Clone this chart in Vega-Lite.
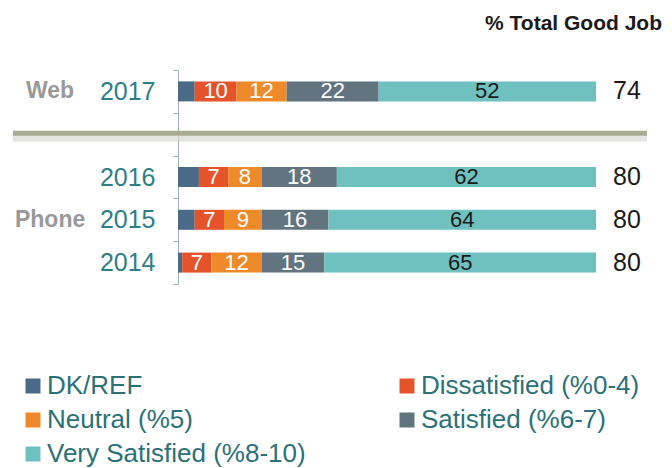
{
  "$schema": "https://vega.github.io/schema/vega-lite/v6.json",
  "width": 418,
  "height": 214,
  "autosize": {"type": "none"},
  "padding": {"left": 178, "top": 70, "right": 76, "bottom": 184},
  "background": "white",
  "config": {"font": "Liberation Sans", "view": {"stroke": null}},
  "title": {"text": "% Total Good Job", "anchor": "end", "frame": "group", "dx": 66, "fontSize": 21, "fontWeight": "bold", "color": "#1a1a1a", "offset": 24, "font": "Liberation Sans"},
  "datasets": {
    "bars": [
      {"year": "2017", "cat": "DK/REF", "value": 4},
      {"year": "2017", "cat": "Dissatisfied (%0-4)", "value": 10},
      {"year": "2017", "cat": "Neutral (%5)", "value": 12},
      {"year": "2017", "cat": "Satisfied (%6-7)", "value": 22},
      {"year": "2017", "cat": "Very Satisfied (%8-10)", "value": 52},
      {"year": "2016", "cat": "DK/REF", "value": 5},
      {"year": "2016", "cat": "Dissatisfied (%0-4)", "value": 7},
      {"year": "2016", "cat": "Neutral (%5)", "value": 8},
      {"year": "2016", "cat": "Satisfied (%6-7)", "value": 18},
      {"year": "2016", "cat": "Very Satisfied (%8-10)", "value": 62},
      {"year": "2015", "cat": "DK/REF", "value": 4},
      {"year": "2015", "cat": "Dissatisfied (%0-4)", "value": 7},
      {"year": "2015", "cat": "Neutral (%5)", "value": 9},
      {"year": "2015", "cat": "Satisfied (%6-7)", "value": 16},
      {"year": "2015", "cat": "Very Satisfied (%8-10)", "value": 64},
      {"year": "2014", "cat": "DK/REF", "value": 1},
      {"year": "2014", "cat": "Dissatisfied (%0-4)", "value": 7},
      {"year": "2014", "cat": "Neutral (%5)", "value": 12},
      {"year": "2014", "cat": "Satisfied (%6-7)", "value": 15},
      {"year": "2014", "cat": "Very Satisfied (%8-10)", "value": 65}
    ],
    "totals": [
      {"year": "2017", "total": 74},
      {"year": "2016", "total": 80},
      {"year": "2015", "total": 80},
      {"year": "2014", "total": 80}
    ],
    "groups": [
      {"group": "Web", "year": "2017"},
      {"group": "Phone", "year": "2015"}
    ],
    "sep": [
      {"year": "gap", "from": -39.5, "to": 112.2}
    ]
  },
  "layer": [
    {
      "data": {"name": "sep"},
      "mark": {"type": "rule", "strokeWidth": 9, "color": "#d4d4d0", "opacity": 0.6, "yOffset": 3},
      "encoding": {
        "y": {"field": "year", "type": "nominal", "scale": {"domain": ["2017", "gap", "2016", "2015", "2014"], "paddingInner": 0, "paddingOuter": 0},
          "axis": {"title": null, "tickBand": "extent", "labelFontSize": 25, "labelColor": "#2e7f84", "labelPadding": 18, "tickSize": 5, "tickColor": "#9fb3b5", "domainColor": "#9fb3b5", "labelExpr": "datum.value == 'gap' ? '' : datum.value", "labelFont": "Liberation Sans"}},
        "x": {"field": "from", "type": "quantitative", "scale": {"domain": [0, 100], "nice": false}, "axis": null},
        "x2": {"field": "to"}
      }
    },
    {
      "data": {"name": "sep"},
      "mark": {"type": "rule", "strokeWidth": 5, "color": "#a9ab92", "yOffset": -1},
      "encoding": {
        "y": {"field": "year", "type": "nominal", "scale": {"domain": ["2017", "gap", "2016", "2015", "2014"], "paddingInner": 0, "paddingOuter": 0}},
        "x": {"field": "from", "type": "quantitative", "scale": {"domain": [0, 100], "nice": false}, "axis": null},
        "x2": {"field": "to"}
      }
    },
    {
      "data": {"name": "bars"},
      "mark": {"type": "bar", "size": 20},
      "encoding": {
        "y": {"field": "year", "type": "nominal", "scale": {"domain": ["2017", "gap", "2016", "2015", "2014"], "paddingInner": 0, "paddingOuter": 0}},
        "x": {"field": "value", "type": "quantitative", "stack": "zero", "scale": {"domain": [0, 100], "nice": false}, "axis": null},
        "color": {"field": "cat", "type": "nominal",
          "scale": {"domain": ["DK/REF", "Dissatisfied (%0-4)", "Neutral (%5)", "Satisfied (%6-7)", "Very Satisfied (%8-10)"], "range": ["#4b6a87", "#e4532a", "#ef8a2b", "#627480", "#6fc1bf"]},
          "legend": {"orient": "none", "direction": "horizontal", "legendX": -158, "legendY": 303, "columns": 2, "columnPadding": 88, "rowPadding": 8, "symbolType": "square", "symbolSize": 225, "symbolStrokeWidth": 0, "labelFontSize": 26, "labelColor": "#2b7177", "labelFont": "Liberation Sans", "labelLimit": 400, "labelOffset": 1, "title": null, "padding": 0}}
      }
    },
    {
      "data": {"name": "bars"},
      "mark": {"type": "text", "fontSize": 22, "baseline": "middle", "align": "center"},
      "encoding": {
        "y": {"field": "year", "type": "nominal", "scale": {"domain": ["2017", "gap", "2016", "2015", "2014"], "paddingInner": 0, "paddingOuter": 0}},
        "x": {"field": "value", "type": "quantitative", "stack": "zero", "bandPosition": 0.5, "scale": {"domain": [0, 100], "nice": false}, "axis": null},
        "detail": {"field": "cat", "type": "nominal"},
        "text": {"condition": {"test": "datum.cat === 'DK/REF'", "value": ""}, "field": "value", "type": "quantitative"},
        "color": {"condition": {"test": "datum.cat === 'Very Satisfied (%8-10)'", "value": "#1a1a1a"}, "value": "#ffffff"}
      }
    },
    {
      "data": {"name": "totals"},
      "mark": {"type": "text", "fontSize": 25, "baseline": "middle", "align": "center", "color": "#1a1a1a"},
      "encoding": {
        "y": {"field": "year", "type": "nominal", "scale": {"domain": ["2017", "gap", "2016", "2015", "2014"], "paddingInner": 0, "paddingOuter": 0}},
        "x": {"datum": 107.4, "type": "quantitative", "scale": {"domain": [0, 100], "nice": false}, "axis": null},
        "text": {"field": "total", "type": "quantitative"}
      }
    },
    {
      "data": {"name": "groups"},
      "mark": {"type": "text", "fontSize": 23, "fontWeight": "bold", "baseline": "middle", "align": "center", "color": "#999999"},
      "encoding": {
        "y": {"field": "year", "type": "nominal", "scale": {"domain": ["2017", "gap", "2016", "2015", "2014"], "paddingInner": 0, "paddingOuter": 0}},
        "x": {"datum": -30.6, "type": "quantitative", "scale": {"domain": [0, 100], "nice": false}, "axis": null},
        "text": {"field": "group", "type": "nominal"}
      }
    }
  ]
}
